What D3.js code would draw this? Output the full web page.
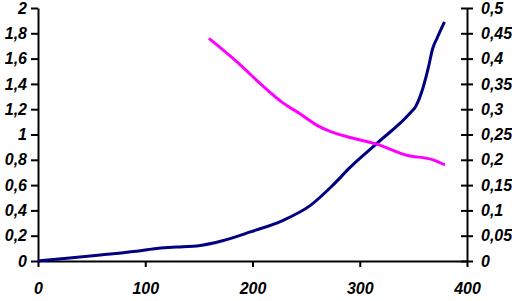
<!DOCTYPE html>
<html>
<head>
<meta charset="utf-8">
<script src="https://cdn.jsdelivr.net/npm/d3@7"></script>
<style>
  body { margin: 0; background: #fff; }
  svg text { font-family: "Liberation Sans", Arial, sans-serif; font-size: 16px; font-weight: bold; font-style: italic; }
</style>
</head>
<body>
<div id="chart"></div>
<script>
// navy series (left axis)
var navyX = [0, 27, 58, 100, 104, 135, 148, 172, 198, 228, 254, 275, 291, 316, 347, 352, 359, 364, 368, 372, 379];
var navyY = [0, 0.021, 0.047, 0.087, 0.092, 0.113, 0.119, 0.16, 0.23, 0.32, 0.44, 0.60, 0.74, 0.93, 1.17, 1.22, 1.37, 1.53, 1.68, 1.76, 1.89];

// magenta series (right axis)
var pinkX = [159.4, 185.3, 207, 228.7, 244.3, 261, 272.3, 291, 315.8, 343.8, 368.3, 379.5];
var pinkY = [0.440, 0.394, 0.351, 0.312, 0.291, 0.267, 0.256, 0.244, 0.231, 0.209, 0.200, 0.190];

var xTicks = [0, 100, 200, 300, 400];
var leftTicks = [0, 0.2, 0.4, 0.6, 0.8, 1, 1.2, 1.4, 1.6, 1.8, 2];
var rightTicks = [0, 0.05, 0.1, 0.15, 0.2, 0.25, 0.3, 0.35, 0.4, 0.45, 0.5];

var width = 512, height = 301;
var margin = {top: 8, right: 45, bottom: 40, left: 38};

var svg = d3.select("#chart")
  .append("svg")
  .attr("width", width)
  .attr("height", height);

var x = d3.scaleLinear().domain([0, 400]).range([margin.left, width - margin.right]);
var yL = d3.scaleLinear().domain([0, 2]).range([height - margin.bottom, margin.top]);
var yR = d3.scaleLinear().domain([0, 0.5]).range([height - margin.bottom, margin.top]);

var fmt = function(d) { return String(+d.toFixed(2)).replace(".", ","); };

// x axis
var gx = svg.append("g")
  .attr("transform", "translate(0," + (height - margin.bottom) + ")")
  .call(d3.axisBottom(x).tickValues(xTicks).tickSizeInner(6).tickSizeOuter(0).tickFormat(fmt));
gx.selectAll("text").attr("y", 22);

// left axis
var gl = svg.append("g")
  .attr("transform", "translate(" + margin.left + ",0)")
  .call(d3.axisLeft(yL).tickValues(leftTicks).tickSizeInner(7).tickSizeOuter(0).tickFormat(fmt));
gl.selectAll("text").attr("x", -11);

// right axis, ticks cross the line
var gr = svg.append("g")
  .attr("transform", "translate(" + (width - margin.right) + ",0)")
  .call(d3.axisRight(yR).tickValues(rightTicks).tickSizeInner(6).tickSizeOuter(0).tickFormat(fmt));
gr.selectAll(".tick line").attr("x1", -6);
gr.selectAll("text").attr("x", 14);

svg.selectAll(".domain, .tick line").attr("stroke", "#000").attr("stroke-width", 2);
svg.selectAll(".tick text").attr("fill", "#000");

var navyLine = d3.line()
  .x(function(d, i) { return x(navyX[i]); })
  .y(function(d) { return yL(d); })
  .curve(d3.curveMonotoneX);

var pinkLine = d3.line()
  .x(function(d, i) { return x(pinkX[i]); })
  .y(function(d) { return yR(d); })
  .curve(d3.curveMonotoneX);

svg.append("path")
  .attr("d", navyLine(navyY))
  .attr("fill", "none")
  .attr("stroke", "#000080")
  .attr("stroke-width", 3);

svg.append("path")
  .attr("d", pinkLine(pinkY))
  .attr("fill", "none")
  .attr("stroke", "#ff00ff")
  .attr("stroke-width", 3);
</script>
</body>
</html>
